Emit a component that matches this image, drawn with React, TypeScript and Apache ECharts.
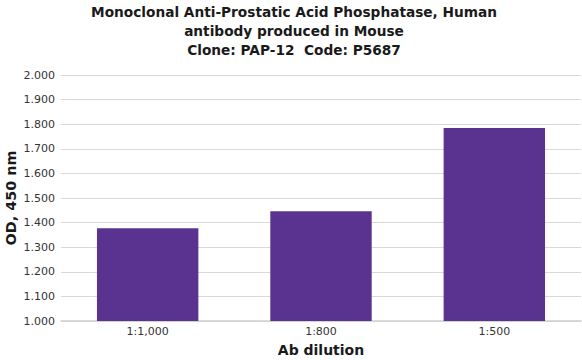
import React, { useEffect, useRef } from "react";
import * as echarts from "echarts";

const categories = ["1:1,000", "1:800", "1:500"];
const odValues = [1.377, 1.446, 1.785];
const titleLines = [
  "Monoclonal Anti-Prostatic Acid Phosphatase, Human",
  "antibody produced in Mouse",
  "Clone: PAP-12  Code: P5687",
];

export default function App() {
  const ref = useRef<HTMLDivElement>(null);
  useEffect(() => {
    const chart = echarts.init(ref.current!, null, { renderer: "svg" });
    chart.setOption({
      animation: false,
      backgroundColor: "#ffffff",
      title: {
        text: titleLines.join("\n"),
        left: 289,
        textAlign: "center",
        top: -3,
        textStyle: {
          fontFamily: "DejaVu Sans",
          fontWeight: "bold",
          fontSize: 13.7,
          lineHeight: 19,
          color: "#1a1a1a",
        },
      },
      grid: {
        left: 61,
        right: 1,
        top: 75,
        bottom: 39,
        containLabel: false,
        outerBoundsMode: "none",
      },
      xAxis: {
        type: "category",
        data: categories,
        name: "Ab dilution",
        nameLocation: "middle",
        nameGap: 22,
        nameTextStyle: {
          fontFamily: "DejaVu Sans",
          fontWeight: "bold",
          fontSize: 14,
          color: "#1a1a1a",
        },
        axisLine: { lineStyle: { color: "#d0d0d0", width: 1.5 } },
        axisTick: { show: false },
        axisLabel: {
          fontFamily: "DejaVu Sans",
          fontSize: 11,
          color: "#333",
          margin: 5,
        },
      },
      yAxis: {
        type: "value",
        min: 1.0,
        max: 2.0,
        interval: 0.1,
        name: "OD, 450 nm",
        nameLocation: "middle",
        nameGap: 43,
        nameMoveOverlap: false,
        nameTextStyle: {
          fontFamily: "DejaVu Sans",
          fontWeight: "bold",
          fontSize: 14.4,
          color: "#1a1a1a",
        },
        axisLine: { show: false },
        axisTick: { show: false },
        splitLine: { lineStyle: { color: "#d9d9d9", width: 1 } },
        axisLabel: {
          fontFamily: "DejaVu Sans",
          fontSize: 11,
          color: "#333",
          margin: 6,
          formatter: (v: number) => v.toFixed(3),
        },
      },
      series: [
        {
          type: "bar",
          data: odValues,
          barWidth: "58.5%",
          itemStyle: { color: "#5a3391" },
        },
      ],
    });
    return () => chart.dispose();
  }, []);
  return (
    <div
      ref={ref}
      style={{ position: "fixed", left: 0, top: 0, width: 582, height: 360 }}
    />
  );
}
